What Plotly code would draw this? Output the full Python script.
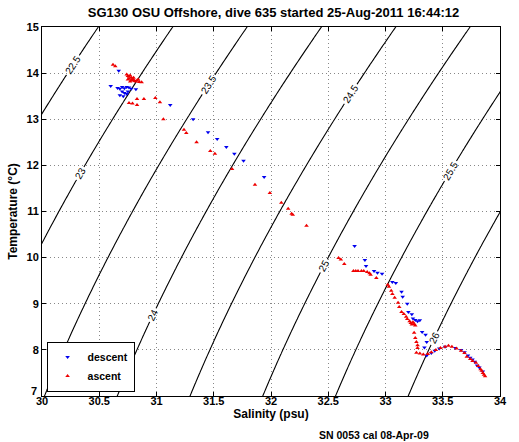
import numpy as np
import plotly.graph_objects as go

# ---- data ----
desc_S = [30.67, 30.60, 30.66, 30.68, 30.70, 30.72, 30.74, 30.76, 30.78, 30.70, 30.72, 30.74,
          30.68, 30.71, 30.75, 30.82, 31.12, 31.32, 31.45, 31.53, 31.61, 31.68, 31.76, 31.94,
          32.73, 32.82, 32.83, 32.90, 32.93, 32.97, 33.06, 33.09, 33.14, 33.15, 33.19, 33.20,
          33.23, 33.24, 33.26, 33.28, 33.30, 33.32, 33.35, 33.36, 33.34, 33.36, 33.40, 33.43,
          33.47, 33.52, 33.61, 33.66, 33.69, 33.72, 33.74, 33.76, 33.78, 33.80, 33.82, 33.85]
desc_T = [14.05, 13.72, 13.68, 13.66, 13.70, 13.67, 13.70, 13.69, 13.66, 13.60, 13.57, 13.55,
          13.52, 13.50, 13.60, 13.65, 13.31, 13.00, 12.72, 12.57, 12.40, 12.25, 12.10, 11.75,
          10.25, 9.95, 9.82, 9.71, 9.67, 9.65, 9.47, 9.45, 9.26, 9.15, 9.00, 8.82,
          8.77, 8.68, 8.65, 8.62, 8.64, 8.39, 8.33, 8.17, 8.05, 7.88, 7.93, 7.98,
          8.03, 8.07, 8.04, 8.00, 7.95, 7.88, 7.83, 7.79, 7.74, 7.66, 7.62, 7.53]

asc_S = [30.62, 30.64, 30.74, 30.75, 30.76, 30.77, 30.78, 30.76, 30.79, 30.80, 30.78, 30.81,
         30.82, 30.83, 30.85, 30.87, 30.75, 30.77, 30.80, 30.84,
         30.76, 30.79, 30.83, 30.83, 30.89, 30.99, 31.03, 31.06, 31.24, 31.26, 31.35, 31.47,
         31.51, 31.66, 31.86, 31.99, 32.09, 32.15, 32.18, 32.19, 32.31, 32.59, 32.61, 32.64,
         32.72, 32.74, 32.76, 32.79, 32.81, 32.84, 32.86, 32.87, 32.92, 33.02, 33.03, 33.05,
         33.06, 33.08, 33.11, 33.12, 33.14, 33.16, 33.18, 33.19, 33.21, 33.22, 33.23, 33.24,
         33.25, 33.26, 33.25, 33.26, 33.27, 33.28, 33.28, 33.27, 33.30, 33.33, 33.37, 33.40,
         33.44, 33.48, 33.52, 33.55, 33.58, 33.62, 33.66, 33.69, 33.71, 33.74, 33.76, 33.79,
         33.81, 33.83, 33.85, 33.87, 33.86, 33.84]
asc_T = [14.18, 14.15, 13.97, 13.94, 13.92, 13.95, 13.90, 13.88, 13.87, 13.85, 13.84, 13.83,
         13.82, 13.84, 13.81, 13.80, 13.86, 13.82, 13.90, 13.86,
         13.35, 13.34, 13.31, 13.44, 13.44, 13.46, 13.37, 13.00, 12.77, 12.70, 12.50, 12.31,
         12.25, 11.92, 11.58, 11.40, 11.19, 11.06, 10.95, 10.93, 10.69, 9.99, 9.96, 9.86,
         9.71, 9.71, 9.71, 9.71, 9.71, 9.69, 9.66, 9.63, 9.56, 9.41, 9.37, 9.28,
         9.21, 9.13, 9.02, 8.93, 8.82, 8.78, 8.72, 8.67, 8.62, 8.58, 8.55, 8.60,
         8.56, 8.53, 8.37, 8.26, 8.17, 8.10, 8.04, 7.94, 7.92, 7.90, 7.91, 7.95,
         8.00, 8.04, 8.07, 8.09, 8.07, 8.03, 7.98, 7.93, 7.85, 7.80, 7.76, 7.72,
         7.65, 7.58, 7.50, 7.43, 7.46, 7.55]

sal_ticks = [30, 30.5, 31, 31.5, 32, 32.5, 33, 33.5, 34]
temp_ticks = [7, 8, 9, 10, 11, 12, 13, 14, 15]
sigma_levels = [22.5, 26.0, 0.5]  # start, end, step

title_text = "SG130 OSU Offshore, dive 635 started 25-Aug-2011 16:44:12"
footer_text = "SN 0053 cal 08-Apr-09"


def sigma_t(S, T):
    """UNESCO EOS-80 density anomaly at surface pressure."""
    rw = (999.842594 + 6.793952e-2 * T - 9.095290e-3 * T**2 + 1.001685e-4 * T**3
          - 1.120083e-6 * T**4 + 6.536332e-9 * T**5)
    A = 8.24493e-1 - 4.0899e-3 * T + 7.6438e-5 * T**2 - 8.2467e-7 * T**3 + 5.3875e-9 * T**4
    B = -5.72466e-3 + 1.0227e-4 * T - 1.6546e-6 * T**2
    C = 4.8314e-4
    return rw + A * S + B * S**1.5 + C * S**2 - 1000.0


sg = np.linspace(29.9, 34.1, 120)
tg = np.linspace(6.8, 15.2, 120)
SS, TT = np.meshgrid(sg, tg)
sig = sigma_t(SS, TT)

FONT = "Liberation Sans, Arial, Helvetica, sans-serif"
TICKFONT = dict(family=FONT, size=11, color="black", weight="bold")

fig = go.Figure()
fig.add_trace(go.Contour(
    x=sg, y=tg, z=sig,
    contours=dict(start=sigma_levels[0], end=sigma_levels[1], size=sigma_levels[2],
                  coloring="lines", showlabels=True,
                  labelfont=dict(family=FONT, size=10, color="black")),
    colorscale=[[0, "black"], [1, "black"]],
    line=dict(width=1.1),
    showscale=False, showlegend=False, hoverinfo="skip",
))
fig.add_trace(go.Scatter(
    x=desc_S, y=desc_T, mode="markers", name="descent",
    marker=dict(symbol="triangle-down", size=4, color="#0000ee", line=dict(width=0)),
))
fig.add_trace(go.Scatter(
    x=asc_S, y=asc_T, mode="markers", name="ascent",
    marker=dict(symbol="triangle-up", size=4, color="#ee0000", line=dict(width=0)),
))

axis_common = dict(
    showline=True, linecolor="black", linewidth=1, mirror="ticks",
    ticks="inside", ticklen=4, tickcolor="black",
    showgrid=True, gridcolor="#888888", griddash="1px,3px", gridwidth=1,
    zeroline=False,
    tickfont=TICKFONT,
    title_font=dict(family=FONT, size=12, color="black", weight="bold"),
)

# the lowest temperature label is drawn raised (as in the reference) so it clears "30"
y_ticktext = ["" if v == temp_ticks[0] else str(v) for v in temp_ticks]

fig.update_xaxes(range=[30, 34], tickvals=sal_ticks,
                 ticktext=[f"{v:g}" for v in sal_ticks],
                 ticklabelstandoff=-5,
                 title_text="Salinity (psu)", title_standoff=0, **axis_common)
fig.update_yaxes(range=[7, 15], tickvals=temp_ticks, ticktext=y_ticktext,
                 title_text="Temperature (°C)", title_standoff=6, **axis_common)

fig.update_layout(
    width=519, height=442,
    margin=dict(l=41, r=12, t=27, b=46),
    paper_bgcolor="white", plot_bgcolor="white",
    title=dict(text=title_text, x=0.527, xanchor="center", y=0.972, yanchor="middle",
               font=dict(family=FONT, size=13, color="black", weight="bold")),
    legend=dict(x=0.01, y=0.012, xanchor="left", yanchor="bottom",
                bordercolor="black", borderwidth=1, bgcolor="white",
                font=dict(family=FONT, size=10.5, color="black", weight="bold"),
                tracegroupgap=0, itemwidth=30),
    annotations=[
        dict(text=footer_text, xref="paper", yref="paper",
             x=0.6, y=-0.085, xanchor="left", yanchor="top", showarrow=False,
             font=dict(family=FONT, size=10.5, color="black", weight="bold")),
        dict(text=str(temp_ticks[0]), xref="paper", yref="y",
             x=0, y=temp_ticks[0], xanchor="right", yanchor="middle",
             xshift=-3, yshift=5, showarrow=False, font=TICKFONT),
    ],
)

fig.write_html("out.html", config={"displayModeBar": False},
               post_script="document.body.style.margin='0';")
